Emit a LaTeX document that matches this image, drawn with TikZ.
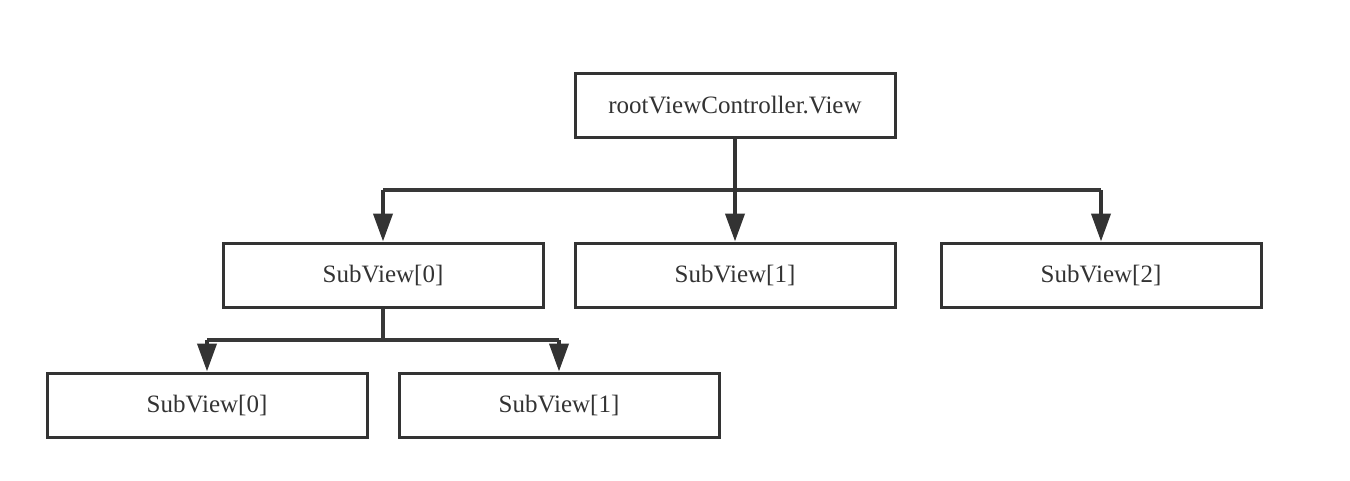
\documentclass[tikz,border=0pt]{standalone}
\usepackage{fontspec}
\setmainfont{Liberation Serif}
\usetikzlibrary{arrows.meta}
\begin{document}
\begin{tikzpicture}[x=1pt,y=-1pt,
  box/.style={draw=black!80, line width=3pt, minimum width=320pt, minimum height=64pt, inner sep=0pt, font=\fontsize{25}{28}\selectfont, text=black!80},
  link/.style={draw=black!78, line width=3.5pt},
  arr/.style={draw=black!80, line width=4pt, -{Triangle[length=28pt,width=19pt]}}]
\useasboundingbox (0,0) rectangle (1350,480);
\fill[white] (0,0) rectangle (1350,480);
\node[box] (root) at (735,105) {rootViewController.View};
\node[box] (s0) at (383,275) {SubView[0]};
\node[box] (s1) at (735,275) {SubView[1]};
\node[box] (s2) at (1101,275) {SubView[2]};
\node[box] (b0) at (207,405) {SubView[0]};
\node[box] (b1) at (559,405) {SubView[1]};
\coordinate (h0) at (383,190);
\coordinate (h2) at (1101,190);
\coordinate (g0) at (207,340);
\coordinate (g1) at (559,340);
\draw[link] (h0) -- (h2);
\draw[arr] (root.south) -- (s1.north);
\draw[arr] (h0) -- (s0.north);
\draw[arr] (h2) -- (s2.north);
\draw[link] (s0.south) -- (383,340);
\draw[link] (g0) -- (g1);
\draw[arr] (g0) -- (b0.north);
\draw[arr] (g1) -- (b1.north);
\end{tikzpicture}
\end{document}
